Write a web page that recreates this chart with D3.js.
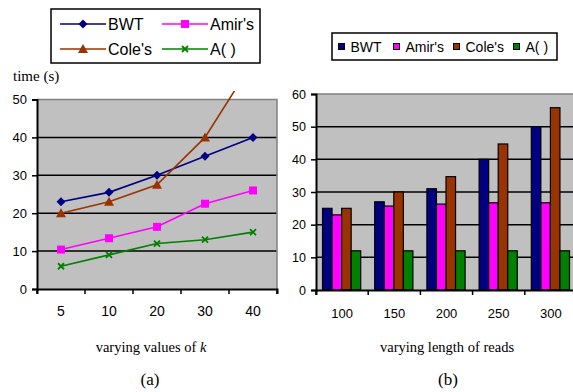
<!DOCTYPE html>
<html>
<head>
<meta charset="utf-8">
<script src="https://cdn.jsdelivr.net/npm/d3@7"></script>
<style>
  body { margin: 0; background: #fff; }
  svg { display: block; }
</style>
</head>
<body>
<svg id="fig" width="573" height="392"></svg>
<script>
// series names and colours
const series = ["BWT", "Amir's", "Cole's", "A( )"];
const colors = ["#000080", "#FF00FF", "#993300", "#008000"];

// chart (a): time vs k
const kValues = ["5", "10", "20", "30", "40"];
const bwtA = [23, 25.5, 30, 35, 40];
const amirA = [10.4, 13.4, 16.4, 22.5, 26];
const coleA = [20, 23, 27.5, 40, 60];
const aA = [6, 9, 12, 13, 15];
const yTicksA = [0, 10, 20, 30, 40, 50];

// chart (b): time vs read length
const readLengths = ["100", "150", "200", "250", "300"];
const bwtB = [25, 27, 31, 40, 50];
const amirB = [23, 25.7, 26.3, 26.7, 26.7];
const coleB = [25, 30, 34.7, 44.7, 55.8];
const aB = [12, 12, 12, 12, 12];
const yTicksB = [0, 10, 20, 30, 40, 50, 60];

const svg = d3.select("#fig");
const sans = "'Liberation Sans', Arial, sans-serif";
const serif = "'Liberation Serif', 'Times New Roman', serif";

// ---------- chart (a) ----------
const xA = d3.scaleBand().domain(kValues).range([37, 277]);
const yA = d3.scaleLinear().domain([0, 50]).range([289, 99.5]);

const gA = svg.append("g");
gA.append("rect")
  .attr("x", 37).attr("y", yA(50))
  .attr("width", 240).attr("height", yA(0) - yA(50))
  .attr("fill", "#C0C0C0");

// gridlines
gA.selectAll(".gridA")
  .data(yTicksA.filter(d => d > 0 && d < 50))
  .enter().append("line")
  .attr("x1", 37).attr("x2", 277)
  .attr("y1", d => yA(d)).attr("y2", d => yA(d))
  .attr("stroke", "#000").attr("stroke-width", 1.5);

// plot border top/right
gA.append("path")
  .attr("d", `M37,${yA(50)}H277V${yA(0)}`)
  .attr("fill", "none").attr("stroke", "#808080").attr("stroke-width", 1.5);

// axes
const axisLeftA = gA.append("g")
  .attr("transform", "translate(37,0)")
  .call(d3.axisLeft(yA).tickValues(yTicksA).tickSize(5).tickPadding(5));
axisLeftA.selectAll("text").style("font", `13px ${sans}`).attr("fill", "#000");

const axisBottomA = gA.append("g")
  .attr("transform", `translate(0,${yA(0)})`)
  .call(d3.axisBottom(xA).tickSize(5).tickPadding(12).tickSizeOuter(5));
axisBottomA.selectAll("text").style("font", `14px ${sans}`).attr("fill", "#000");
// ticks at band edges
axisBottomA.selectAll(".tick line").remove();
axisBottomA.selectAll(".edge")
  .data(kValues.concat(["end"]))
  .enter().append("line")
  .attr("x1", (d, i) => xA.range()[0] + i * xA.step())
  .attr("x2", (d, i) => xA.range()[0] + i * xA.step())
  .attr("y1", 0).attr("y2", 5)
  .attr("stroke", "#000").attr("stroke-width", 1.5);
[axisLeftA, axisBottomA].forEach(a => {
  a.select(".domain").attr("stroke-width", 2);
  a.selectAll("line").attr("stroke-width", 1.5);
});

// clip region for the lines (Cole's runs off the top)
svg.append("clipPath").attr("id", "clipA")
  .append("rect").attr("x", 30).attr("y", 91).attr("width", 250).attr("height", 205);

const cx = d => xA(d) + xA.bandwidth() / 2;
const lineA = d3.line().x(d => cx(d.k)).y(d => yA(d.v));
const dataA = [bwtA, amirA, coleA, aA].map((vals, s) =>
  vals.map((v, i) => ({ k: kValues[i], v: v, s: s })));

const linesG = gA.append("g").attr("clip-path", "url(#clipA)");
dataA.forEach((pts, s) => {
  linesG.append("path")
    .datum(pts)
    .attr("d", lineA)
    .attr("fill", "none")
    .attr("stroke", colors[s])
    .attr("stroke-width", 1.6);
});

function marker(g, s, x, y) {
  if (s === 0) {
    g.append("path").attr("d", `M${x},${y - 4.5}L${x + 4.5},${y}L${x},${y + 4.5}L${x - 4.5},${y}Z`)
      .attr("fill", colors[0]);
  } else if (s === 1) {
    g.append("rect").attr("x", x - 4).attr("y", y - 4).attr("width", 8).attr("height", 8)
      .attr("fill", colors[1]);
  } else if (s === 2) {
    g.append("path").attr("d", `M${x},${y - 5}L${x + 5},${y + 4}L${x - 5},${y + 4}Z`)
      .attr("fill", colors[2]);
  } else {
    g.append("path").attr("d", `M${x - 3},${y - 3}L${x + 3},${y + 3}M${x - 3},${y + 3}L${x + 3},${y - 3}`)
      .attr("stroke", colors[3]).attr("stroke-width", 1.8);
  }
}
dataA.forEach((pts, s) => {
  pts.forEach(p => {
    if (yA(p.v) > 95) marker(linesG, s, cx(p.k), yA(p.v));
  });
});

// legend (a)
const legA = svg.append("g");
legA.append("rect").attr("x", 51).attr("y", 9).attr("width", 209).attr("height", 54)
  .attr("fill", "#fff").attr("stroke", "#000").attr("stroke-width", 1.5);
series.forEach((name, s) => {
  const col = s % 2, row = Math.floor(s / 2);
  const x0 = col === 0 ? 60 : 162;
  const y0 = row === 0 ? 24 : 49;
  legA.append("line").attr("x1", x0).attr("x2", x0 + 46).attr("y1", y0).attr("y2", y0)
    .attr("stroke", colors[s]).attr("stroke-width", 1.6);
  marker(legA, s, x0 + 23, y0);
  legA.append("text").attr("x", x0 + 48).attr("y", y0 + 6)
    .style("font", `16px ${sans}`).text(name);
});

svg.append("text").attr("x", 13).attr("y", 81)
  .style("font", `15px ${serif}`).text("time (s)");
const tA = svg.append("text").attr("x", 151).attr("y", 352).attr("text-anchor", "middle")
  .style("font", `14.5px ${serif}`);
tA.append("tspan").text("varying values of ");
tA.append("tspan").attr("font-style", "italic").text("k");
svg.append("text").attr("x", 150).attr("y", 385).attr("text-anchor", "middle")
  .style("font", `17px ${serif}`).text("(a)");

// ---------- chart (b) ----------
const xB = d3.scaleBand().domain(readLengths).range([316, 316 + 5 * 52.2]);
const yB = d3.scaleLinear().domain([0, 60]).range([290, 94]);
const x1B = d3.scaleBand().domain(series).range([6.5, xB.step() - 7.5]);

const gB = svg.append("g");
gB.append("rect")
  .attr("x", 316).attr("y", yB(60))
  .attr("width", 300).attr("height", yB(0) - yB(60))
  .attr("fill", "#C0C0C0");
gB.append("line").attr("x1", 316).attr("x2", 600)
  .attr("y1", yB(60)).attr("y2", yB(60))
  .attr("stroke", "#808080").attr("stroke-width", 1.5);
gB.selectAll(".gridB")
  .data(yTicksB.filter(d => d > 0 && d < 60))
  .enter().append("line")
  .attr("x1", 316).attr("x2", 600)
  .attr("y1", d => yB(d)).attr("y2", d => yB(d))
  .attr("stroke", "#000").attr("stroke-width", 1.5);

const dataB = readLengths.map((r, i) => ({
  r: r,
  vals: [bwtB[i], amirB[i], coleB[i], aB[i]]
}));
gB.selectAll(".grp")
  .data(dataB)
  .enter().append("g")
  .attr("transform", d => `translate(${xB(d.r)},0)`)
  .selectAll("rect")
  .data(d => d.vals.map((v, s) => ({ v: v, s: s })))
  .enter().append("rect")
  .attr("x", d => x1B(series[d.s]))
  .attr("y", d => yB(d.v))
  .attr("width", x1B.bandwidth())
  .attr("height", d => yB(0) - yB(d.v))
  .attr("fill", d => colors[d.s])
  .attr("stroke", "#000").attr("stroke-width", 1.2);

const axisLeftB = gB.append("g")
  .attr("transform", "translate(316,0)")
  .call(d3.axisLeft(yB).tickValues(yTicksB).tickSize(5).tickPadding(5));
axisLeftB.selectAll("text").style("font", `12.5px ${sans}`).attr("fill", "#000");

const axisBottomB = gB.append("g")
  .attr("transform", `translate(0,${yB(0)})`)
  .call(d3.axisBottom(xB).tickSize(5).tickPadding(14).tickSizeOuter(5));
axisBottomB.selectAll("text").style("font", `13px ${sans}`).attr("fill", "#000");
axisBottomB.selectAll(".tick line").remove();
axisBottomB.selectAll(".edge")
  .data(readLengths)
  .enter().append("line")
  .attr("x1", (d, i) => xB.range()[0] + i * xB.step())
  .attr("x2", (d, i) => xB.range()[0] + i * xB.step())
  .attr("y1", 0).attr("y2", 5)
  .attr("stroke", "#000").attr("stroke-width", 1.5);
[axisLeftB, axisBottomB].forEach(a => {
  a.select(".domain").attr("stroke-width", 2);
  a.selectAll("line").attr("stroke-width", 1.5);
});

// legend (b)
const legB = svg.append("g");
legB.append("rect").attr("x", 332).attr("y", 33).attr("width", 225).attr("height", 27)
  .attr("fill", "#fff").attr("stroke", "#000").attr("stroke-width", 1.5);
const legBx = [338.5, 393.5, 453.5, 513.5];
series.forEach((name, s) => {
  legB.append("rect").attr("x", legBx[s]).attr("y", 43.5).attr("width", 6).attr("height", 6)
    .attr("fill", colors[s]).attr("stroke", "#000").attr("stroke-width", 1);
  legB.append("text").attr("x", legBx[s] + 12).attr("y", 51.5)
    .style("font", `14px ${sans}`).text(name);
});

svg.append("text").attr("x", 447).attr("y", 352).attr("text-anchor", "middle")
  .style("font", `14.5px ${serif}`).text("varying length of reads");
svg.append("text").attr("x", 448).attr("y", 385).attr("text-anchor", "middle")
  .style("font", `17px ${serif}`).text("(b)");
</script>
</body>
</html>
